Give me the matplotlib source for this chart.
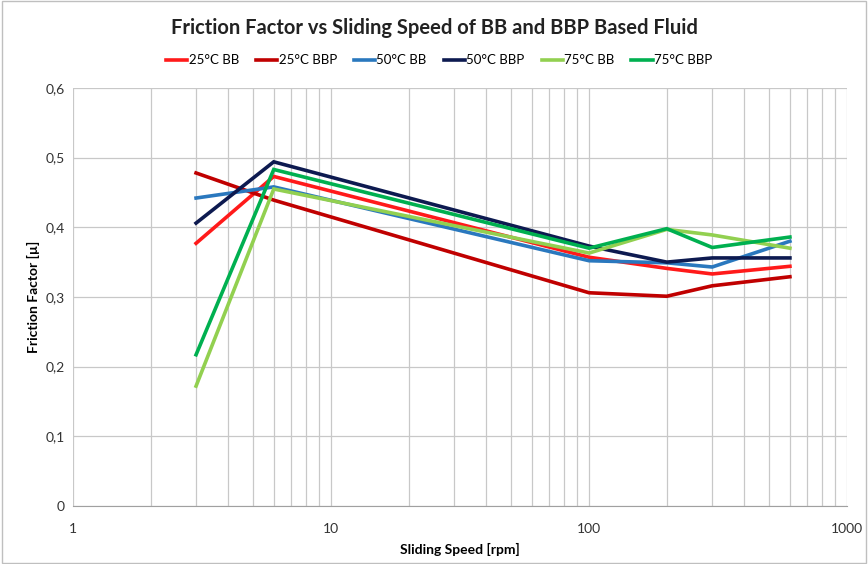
import matplotlib
matplotlib.use("Agg")
import matplotlib.pyplot as plt
from matplotlib.ticker import FixedLocator, LogLocator, NullFormatter, FuncFormatter
from matplotlib.patches import Rectangle

plt.rcParams['font.family'] = ['Lato', 'DejaVu Sans']

speed = [3, 6, 100, 200, 300, 600]
series_names = ["25°C BB", "25°C BBP", "50°C BB", "50°C BBP", "75°C BB", "75°C BBP"]
bb25 = [0.377, 0.473, 0.357, 0.341, 0.333, 0.344]
bbp25 = [0.478, 0.439, 0.306, 0.301, 0.316, 0.329]
bb50 = [0.442, 0.458, 0.352, 0.349, 0.343, 0.380]
bbp50 = [0.406, 0.494, 0.373, 0.350, 0.356, 0.356]
bb75 = [0.172, 0.455, 0.363, 0.397, 0.389, 0.370]
bbp75 = [0.217, 0.483, 0.370, 0.398, 0.371, 0.386]
yticks = [0, 0.1, 0.2, 0.3, 0.4, 0.5, 0.6]
ytick_labels = ["0", "0,1", "0,2", "0,3", "0,4", "0,5", "0,6"]
xticks = [1, 10, 100, 1000]

colors = ["#FF1A1A", "#C00000", "#2A78BE", "#0D1A50", "#92D050", "#00B050"]
data = [bb25, bbp25, bb50, bbp50, bb75, bbp75]

fig = plt.figure(figsize=(8.68, 5.64), dpi=100)
fig.patches.append(Rectangle((0.002, 0.002), 0.996, 0.996, transform=fig.transFigure,
                             fill=False, edgecolor="#BFBFBF", linewidth=1))
ax = fig.add_axes([0.084, 0.103, 0.892, 0.741])

for name, vals, c in zip(series_names, data, colors):
    ax.plot(speed, vals, color=c, linewidth=2.6, label=name, solid_joinstyle="miter")

ax.set_xscale("log")
ax.set_xlim(1, 1000)
ax.set_ylim(0, 0.6)
ax.set_yticks(yticks)
ax.set_yticklabels(ytick_labels)
ax.xaxis.set_major_locator(FixedLocator(xticks))
ax.xaxis.set_major_formatter(FuncFormatter(lambda v, p: f"{int(v)}"))
ax.xaxis.set_minor_locator(LogLocator(base=10, subs=range(2, 10)))
ax.xaxis.set_minor_formatter(NullFormatter())
ax.grid(True, which="both", axis="x", color="#C8C8C8", linewidth=0.9)
ax.grid(True, which="major", axis="y", color="#C8C8C8", linewidth=0.9)
ax.set_axisbelow(True)
for s in ["top", "right", "left"]:
    ax.spines[s].set_visible(False)
ax.spines["bottom"].set_color("#A0A0A0")
ax.tick_params(axis="both", which="both", length=0, labelsize=10, colors="#333333", pad=6)
ax.tick_params(axis="x", pad=12)

ax.set_xlabel("Sliding Speed [rpm]", fontsize=10, fontweight="bold", labelpad=6)
ax.set_ylabel("Friction Factor [µ]", fontsize=10, fontweight="bold", labelpad=4)
fig.text(0.5, 0.95, "Friction Factor vs Sliding Speed of BB and BBP Based Fluid",
         ha="center", va="center", fontsize=14.5, fontweight="bold", color="#222222")
fig.legend(loc="center", bbox_to_anchor=(0.506, 0.893), ncol=6, frameon=False,
           fontsize=9.5, handlelength=1.6, handletextpad=0.1, columnspacing=1.3)

fig.savefig("out.png", dpi=100)
